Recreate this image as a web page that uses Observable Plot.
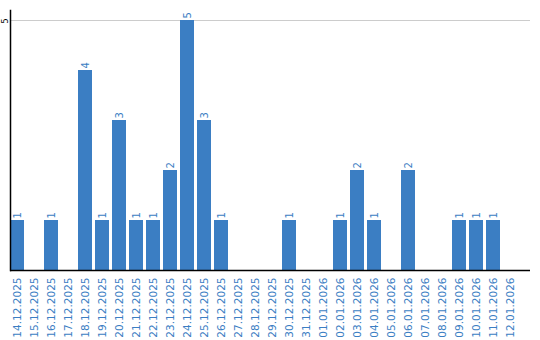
<!DOCTYPE html>
<html>
<head>
<meta charset="utf-8">
<script src="https://cdn.jsdelivr.net/npm/d3@7"></script>
<script src="https://cdn.jsdelivr.net/npm/@observablehq/plot@0.6"></script>
<style>
  html, body { margin: 0; padding: 0; background: #fff; }
  #chart svg { display: block; }
</style>
</head>
<body>
<div id="chart"></div>
<script>
const dates = [
  "14.12.2025","15.12.2025","16.12.2025","17.12.2025","18.12.2025","19.12.2025",
  "20.12.2025","21.12.2025","22.12.2025","23.12.2025","24.12.2025","25.12.2025",
  "26.12.2025","27.12.2025","28.12.2025","29.12.2025","30.12.2025","31.12.2025",
  "01.01.2026","02.01.2026","03.01.2026","04.01.2026","05.01.2026","06.01.2026",
  "07.01.2026","08.01.2026","09.01.2026","10.01.2026","11.01.2026","12.01.2026"
];
const counts = [
  1,0,1,0,4,1,
  3,1,1,2,5,3,
  1,0,0,0,1,0,
  0,1,2,1,0,2,
  0,0,1,1,1,0
];
const yTicks = [5];

const data = dates.map((d, i) => ({date: d, value: counts[i]}));
const nonZero = data.filter(d => d.value > 0);
const blue = "#3b7ec3";

const chart = Plot.plot({
  width: 540,
  height: 340,
  marginLeft: 10,
  marginRight: 10,
  marginTop: 10,
  marginBottom: 70,
  style: {fontFamily: "DejaVu Sans", fontSize: "10px", background: "#fff"},
  x: {domain: dates, range: [10, 517], paddingInner: 3/17, paddingOuter: 0, axis: null},
  y: {domain: [0, 5.2], axis: null},
  marks: [
    Plot.ruleY(yTicks, {stroke: "#cccccc", strokeWidth: 1}),
    Plot.barY(data, {x: "date", y: "value", fill: blue}),
    Plot.text(nonZero, {x: "date", y: "value", text: d => String(d.value), rotate: -90, textAnchor: "start", dy: -2, fill: blue, fontSize: 10}),
    Plot.axisX({tickSize: 0, tickPadding: 7, tickRotate: -90, color: blue, fontSize: 10.5, label: null}),
    Plot.text(yTicks, {y: d => d, frameAnchor: "left", dx: -5, dy: 3, rotate: -90, text: d => String(d), fill: "#000", fontSize: 8}),
    Plot.ruleY([0], {stroke: "#000", strokeWidth: 1.5}),
    Plot.frame({anchor: "left", stroke: "#000", strokeWidth: 1.5})
  ]
});
document.getElementById("chart").appendChild(chart);
</script>
</body>
</html>
